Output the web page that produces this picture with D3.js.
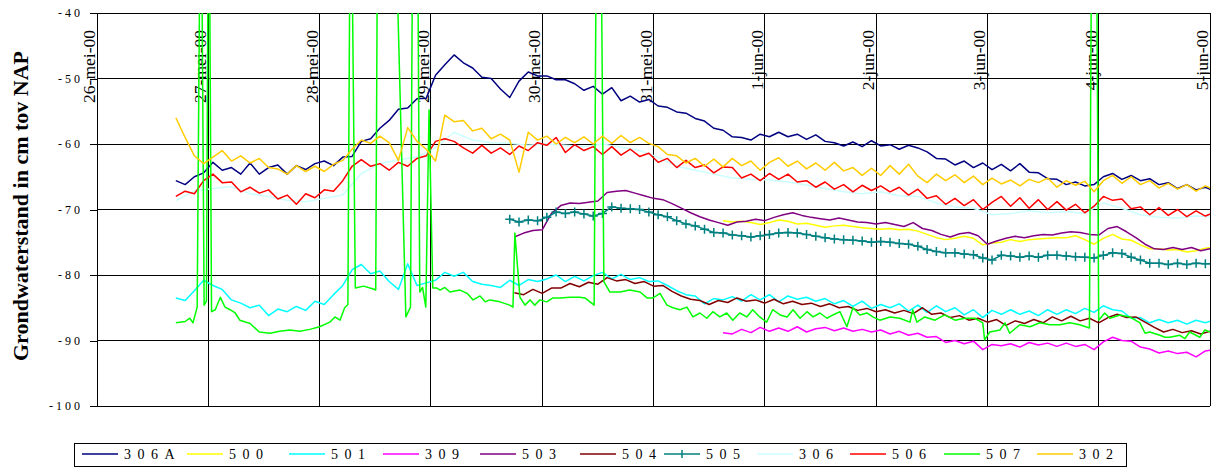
<!DOCTYPE html>
<html>
<head>
<meta charset="utf-8">
<script src="https://cdn.jsdelivr.net/npm/d3@7"></script>
<style>
  body { margin: 0; background: #fff; }
  svg { display: block; font-family: 'Liberation Serif', 'Times New Roman', serif; }
</style>
</head>
<body>
<svg id="chart" width="1211" height="468"></svg>
<script>
// time is counted in hours from 26-mei-00 00:00
const dayLabels = ['26-mei-00', '27-mei-00', '28-mei-00', '29-mei-00', '30-mei-00', '31-mei-00',
                   '1-jun-00', '2-jun-00', '3-jun-00', '4-jun-00', '5-jun-00'];
const yTicks = [-40, -50, -60, -70, -80, -90, -100];

// series sampled every 2 h from hour 17
const s306A = [-65.6, -66.2, -65.0, -64.4, -62.8, -64.0, -63.6, -64.6, -62.9, -64.6,
  -63.6, -63.2, -64.6, -63.3, -63.9, -63.0, -62.6, -63.3, -62.0, -61.9,
  -59.6, -59.2, -57.6, -56.4, -54.7, -54.5, -53.1, -53.0, -49.5, -47.9,
  -46.4, -47.6, -48.4, -49.8, -50.0, -51.6, -52.9, -50.4, -49.0, -49.6,
  -49.6, -50.2, -50.2, -50.8, -51.8, -51.2, -52.4, -51.4, -53.4, -52.7,
  -53.6, -53.2, -54.2, -54.4, -55.1, -55.3, -56.1, -56.5, -57.6, -57.9,
  -58.9, -59.0, -59.4, -58.5, -58.9, -58.2, -58.9, -58.5, -59.3, -58.6,
  -59.6, -59.8, -60.3, -59.7, -60.4, -59.5, -60.3, -60.1, -60.8, -60.2,
  -60.6, -61.2, -62.2, -62.3, -63.2, -62.6, -63.6, -62.9, -63.9, -63.1,
  -64.1, -63.0, -64.3, -64.4, -65.3, -65.4, -66.2, -65.8, -66.4, -66.2,
  -65.0, -64.5, -65.4, -64.8, -65.6, -65.3, -66.2, -65.9, -66.8, -66.2,
  -67.0, -66.6, -67.2];
const s302 = [-56.0, -59.0, -61.8, -63.0, -62.0, -61.0, -62.6, -61.8, -62.9, -62.2,
  -63.6, -63.8, -64.6, -63.3, -64.2, -63.4, -64.2, -63.1, -62.5, -60.8,
  -59.4, -59.9, -58.8, -59.8, -62.5, -57.5, -59.6, -60.8, -62.6, -55.6,
  -56.6, -56.4, -58.0, -57.6, -59.2, -58.5, -59.4, -64.3, -58.2, -59.4,
  -58.8, -60.0, -59.0, -59.8, -58.9, -60.0, -58.8, -59.9, -58.7, -59.8,
  -59.0, -59.9, -60.4, -61.6, -61.8, -62.9, -62.2, -63.4, -62.3, -63.5,
  -62.2, -63.3, -62.6, -64.0, -62.8, -62.1, -63.4, -62.6, -63.8, -62.9,
  -64.0, -62.8, -64.1, -63.6, -64.8, -63.7, -64.8, -63.3, -64.6, -63.1,
  -64.9, -65.9, -64.6, -65.6, -64.7, -65.9, -64.9, -66.2, -65.2, -66.1,
  -65.5, -66.4, -65.4, -65.9, -65.2, -66.6, -65.6, -66.3, -65.7, -67.3,
  -65.6, -64.8, -66.0, -65.0, -66.2, -65.6, -66.7, -66.0, -66.9, -66.2,
  -67.2, -66.4, -67.0];
const s506 = [-68.0, -67.2, -67.6, -65.6, -64.6, -65.9, -65.8, -67.3, -66.6, -67.5,
  -67.0, -68.4, -67.8, -69.2, -67.6, -68.2, -67.0, -67.2, -65.6, -63.4,
  -62.4, -63.4, -63.0, -64.0, -62.8, -63.4, -62.2, -61.8, -59.6, -59.2,
  -59.6, -60.6, -61.4, -60.2, -61.4, -60.6, -61.6, -60.3, -61.0, -59.8,
  -60.2, -59.0, -61.3, -60.1, -61.0, -60.4, -61.6, -60.4, -61.7, -60.8,
  -61.9, -61.4, -62.8, -62.2, -63.6, -62.5, -63.6, -63.2, -64.4, -63.5,
  -63.6, -65.2, -64.6, -65.6, -64.5, -65.4, -64.6, -65.8, -65.6, -66.6,
  -65.8, -66.9, -66.2, -67.3, -66.3, -67.1, -66.4, -67.3, -66.6, -67.8,
  -66.9, -68.3, -67.9, -69.2, -68.3, -69.4, -68.5, -70.0, -68.9, -68.0,
  -69.5, -68.2, -69.8, -68.5, -70.0, -68.8, -70.1, -69.2, -70.5, -69.5,
  -68.0, -68.6, -68.4, -69.9, -69.6, -70.8, -69.7, -70.9, -70.0, -71.1,
  -70.2, -71.0, -70.4];
const s501 = [-83.5, -83.9, -82.4, -80.8, -81.6, -82.2, -83.8, -84.3, -85.0, -84.6,
  -86.2, -85.2, -85.6, -84.8, -85.4, -84.0, -84.5, -83.0, -81.6, -79.2,
  -78.4, -79.8, -79.4, -81.0, -82.2, -78.3, -81.6, -81.2, -80.8, -79.6,
  -80.2, -79.6, -81.0, -81.4, -81.6, -81.9, -80.8, -81.6, -80.7, -81.0,
  -80.6, -80.0, -81.0, -80.2, -80.9, -80.1, -79.6, -80.6, -79.9, -80.7,
  -80.4, -81.0, -80.9, -81.6, -82.4, -83.0, -83.2, -84.4, -83.6, -83.8,
  -83.3, -84.0, -83.0, -83.8, -83.0, -84.1, -83.2, -83.7, -83.4, -84.0,
  -83.6, -84.4, -83.9, -84.8, -84.0, -85.1, -84.5, -85.0, -84.4, -85.5,
  -84.6, -85.7, -84.7, -85.6, -85.0, -86.1, -85.3, -86.5, -85.4, -86.0,
  -85.3, -86.0, -85.5, -86.2, -85.3, -86.0, -85.3, -85.9, -85.1, -85.7,
  -84.7, -85.3, -85.5, -86.6, -86.5, -87.3, -86.8, -87.3, -86.9, -87.5,
  -86.9, -87.3, -86.8];
// sampled every 4 h from hour 17
const s306 = [-68.6, -67.2, -66.8, -66.5, -67.6, -68.0, -68.6, -68.8, -68.3, -67.8,
  -64.5, -63.0, -62.4, -62.0, -60.6, -58.2, -59.4, -59.8, -59.9, -60.2,
  -60.0, -60.2, -60.4, -60.0, -60.5, -61.0, -62.0, -63.4, -64.0, -64.6,
  -65.2, -65.4, -65.5, -65.8, -66.3, -66.8, -67.3, -67.6, -67.3, -67.9,
  -68.0, -69.0, -69.6, -69.8, -70.8, -70.6, -70.2, -70.5, -70.3, -70.6,
  -69.0, -69.8, -70.8, -71.2, -71.3, -71.0, -71.2];
// sampled every 2 h from hour 89
const s505 = [-71.5, -71.9, -71.6, -71.7, -71.2, -70.4, -70.6, -70.4, -70.7, -71.0,
  -70.6, -69.6, -69.8, -69.9, -70.0, -70.4, -70.8, -71.1, -71.7, -72.2,
  -72.5, -73.0, -73.5, -73.6, -73.9, -74.0, -74.2, -74.0, -73.8, -73.6,
  -73.5, -73.6, -73.8, -74.1, -74.3, -74.5, -74.6, -74.7, -74.8, -75.0,
  -74.9, -75.0, -75.2, -75.3, -75.6, -76.1, -76.4, -76.6, -76.6, -76.8,
  -76.9, -77.4, -77.7, -77.0, -77.1, -77.3, -77.1, -77.3, -77.0, -77.0,
  -77.1, -77.2, -77.3, -77.4, -77.0, -76.6, -76.7, -77.3, -77.7, -78.2,
  -78.2, -78.4, -78.2, -78.4, -78.2, -78.3, -78.3];
// sampled every 2 h from hour 90
const s503 = [-74.2, -73.6, -73.2, -73.1, -70.6, -69.4, -69.0, -69.1, -68.9, -68.7,
  -67.4, -67.2, -67.1, -67.5, -67.9, -68.3, -68.5, -69.1, -69.8, -70.5,
  -71.1, -71.6, -72.0, -72.4, -71.9, -71.8, -71.5, -71.7, -71.2, -70.8,
  -70.5, -70.9, -71.2, -71.4, -71.6, -71.3, -71.6, -71.9, -72.0, -72.2,
  -72.0, -72.3, -72.6, -72.0, -72.9, -73.2, -73.8, -74.2, -73.7, -73.5,
  -74.0, -75.3, -74.8, -74.4, -74.1, -74.3, -74.0, -73.8, -73.9, -73.6,
  -73.4, -73.5, -73.8, -73.9, -72.9, -72.6, -73.4, -74.3, -75.3, -76.0,
  -76.1, -75.8, -76.1, -75.8, -76.3, -76.0];
const s504 = [-82.7, -83.0, -82.2, -82.8, -82.0, -82.0, -81.3, -81.8, -81.1, -81.4,
  -80.4, -80.9, -80.7, -81.3, -81.0, -81.7, -81.6, -82.5, -83.2, -83.7,
  -83.9, -84.5, -83.9, -84.2, -83.5, -84.0, -83.8, -84.3, -83.7, -84.4,
  -84.0, -84.5, -84.3, -84.8, -84.4, -85.0, -84.8, -85.4, -85.1, -85.6,
  -85.3, -85.8, -85.4, -85.9, -85.0, -86.0, -85.8, -86.5, -86.2, -86.9,
  -86.6, -87.2, -86.8, -87.7, -87.0, -87.4, -86.8, -87.3, -86.4, -87.0,
  -86.3, -87.0, -86.6, -87.3, -86.5, -86.0, -86.5, -86.4, -87.2, -88.0,
  -88.7, -88.3, -88.8, -88.5, -89.0, -88.6];
// sampled every 2 h from hour 135
const s500 = [-71.7, -71.9, -71.8, -72.0, -72.3, -72.0, -71.6, -71.8, -72.2, -72.1,
  -72.4, -72.7, -72.5, -72.4, -72.6, -72.8, -72.9, -73.0, -72.9, -73.1,
  -73.0, -73.3, -73.8, -74.3, -74.6, -74.4, -74.1, -74.4, -75.4, -75.1,
  -75.0, -74.6, -74.9, -74.6, -74.5, -74.4, -74.3, -74.3, -74.0, -74.6,
  -75.3, -74.4, -73.8, -74.5, -74.7, -75.4, -76.0, -76.0, -76.2, -76.1,
  -76.5, -76.3, -75.9, -75.8];
const s309 = [-88.8, -89.0, -88.3, -88.8, -88.0, -88.6, -88.1, -88.6, -87.9, -88.7,
  -88.2, -88.0, -88.5, -88.1, -88.6, -88.3, -88.7, -88.4, -89.0, -88.6,
  -89.2, -88.9, -89.5, -89.4, -90.3, -90.0, -90.5, -90.1, -91.4, -90.6,
  -90.8, -90.5, -91.0, -90.3, -90.7, -90.4, -90.9, -90.4, -90.9, -90.6,
  -91.4, -90.2, -89.5, -90.0, -90.1, -91.0, -91.3, -91.9, -91.6, -92.0,
  -91.8, -92.5, -91.6, -91.4];
// 507 has irregular readings (spikes run off the top of the chart)
const hours507 = [17, 19, 20, 20.7, 21.6, 22.4, 23.1, 23.6, 24.1, 24.7,
  25.5, 26.6, 27.6, 28.7, 29.8, 30.8, 33, 35, 37.3, 39.4,
  41.6, 43.7, 45.9, 48, 50.2, 51.3, 52.4, 53.4, 54.1, 54.7,
  55.7, 57.5, 59.4, 60.1, 60.6, 63.8, 66.6, 67.6, 68.2, 69,
  69.6, 70.2, 70.9, 71.6, 72.4, 73.3, 74, 75, 76.1, 78.3,
  79.8, 81.1, 82.6, 83.7, 84.7, 86.9, 89, 89.7, 90.1, 91.2,
  92.3, 93.4, 94.4, 95.5, 97, 98.3, 99.8, 102, 104.1, 105.2,
  106.3, 107.2, 107.8, 108.5, 109.3, 110.6, 112.8, 114.9, 117.1, 118.6,
  119.9, 121.4, 122.9, 124.2, 125.7, 127.2, 128.5, 130, 131.5, 132.8,
  134.3, 135.8, 137.1, 138.6, 140.1, 141.4, 142.9, 144.4, 145.7, 147.3,
  148.8, 150.1, 151.6, 153.1, 154.4, 155.9, 157.4, 158.7, 160.2, 161.7,
  163, 164.5, 166, 167.3, 168.8, 171, 173.1, 175.3, 175.9, 176.8,
  178.5, 180.7, 182.8, 185, 187.1, 189.3, 191, 191.4, 192.5, 194.7,
  195.8, 196.8, 199, 201.2, 203.3, 205.5, 207.6, 209.8, 211.9, 214,
  214.6, 215.4, 216, 217.3, 218.4, 220.6, 222.7, 224.9, 226, 227,
  229.2, 230.3, 231.3, 233.5, 234.6, 235.6, 237.8, 238.9, 240];
const s507 = [-87.3, -87.1, -86.6, -87.3, -84.9, -10, -84.6, -84.0, -10, -85.6,
  -85.3, -83.4, -84.9, -85.3, -85.8, -86.9, -87.4, -88.7, -88.9, -88.6,
  -88.4, -88.6, -88.3, -87.9, -87.2, -86.4, -86.9, -85.0, -84.5, -10,
  -82.0, -81.7, -82.1, -82.3, -10, -10, -86.4, -84.9, -10, -10,
  -82.6, -81.9, -84.9, -54.8, -82.0, -82.0, -82.3, -81.9, -82.6, -82.3,
  -82.8, -83.8, -83.2, -84.1, -83.8, -84.1, -84.6, -84.9, -73.6, -83.4,
  -84.6, -83.8, -84.6, -83.8, -84.1, -83.5, -83.5, -83.4, -83.4, -83.5,
  -84.1, -84.6, -10, -10, -81.0, -82.6, -82.6, -82.3, -82.6, -83.5,
  -83.5, -82.8, -84.6, -85.0, -85.3, -84.9, -86.4, -85.8, -86.6, -85.6,
  -86.4, -85.8, -86.9, -85.8, -86.4, -85.3, -86.4, -87.2, -85.3, -86.1,
  -86.4, -85.3, -86.6, -85.6, -86.4, -85.8, -86.6, -86.1, -85.6, -87.9,
  -85.0, -86.1, -85.8, -86.4, -86.9, -86.4, -86.6, -87.2, -85.3, -87.2,
  -86.4, -86.9, -86.1, -86.9, -86.6, -86.6, -87.3, -89.9, -88.7, -88.4,
  -87.3, -88.9, -87.6, -87.9, -87.3, -87.6, -87.6, -87.3, -87.6, -88.1,
  -10, -10, -86.9, -85.8, -86.6, -86.1, -86.4, -87.3, -88.9, -88.7,
  -89.2, -89.5, -89.5, -89.2, -89.7, -88.7, -89.5, -88.4, -88.7];

const names = ['306A', '500', '501', '309', '503', '504', '505', '306', '506', '507', '302'];
const colors = ['#000080', '#FFFF00', '#00FFFF', '#FF00FF', '#800080', '#800000',
                '#008080', '#CCFFFF', '#FF0000', '#00FF00', '#FFCC00'];

const regular = (start, step, vals) => vals.map((v, i) => ({ h: start + step * i, v }));
const seriesData = [
    regular(17, 2, s306A),
    regular(135, 2, s500),
    regular(17, 2, s501),
    regular(135, 2, s309),
    regular(90, 2, s503),
    regular(90, 2, s504),
    regular(89, 2, s505),
    regular(17, 4, s306),
    regular(17, 2, s506),
    hours507.map((h, i) => ({ h, v: s507[i] })),
    regular(17, 2, s302),
];

const base = new Date(2000, 4, 26);
const at = h => new Date(base.getTime() + h * 3600e3);

const plotL = 97, plotR = 1210, plotT = 13, plotB = 406;
const x = d3.scaleTime().domain([at(0), at(240)]).range([plotL, plotR]);
const y = d3.scaleLinear().domain([-100, -40]).range([plotB, plotT]);

const svg = d3.select('#chart');

svg.append('defs').append('clipPath').attr('id', 'plot')
    .append('rect').attr('x', plotL).attr('y', plotT)
    .attr('width', plotR - plotL).attr('height', plotB - plotT);

// grid
const days = d3.timeDay.range(at(0), at(241));
svg.append('g').selectAll('line')
    .data(yTicks).enter().append('line')
    .attr('x1', plotL).attr('x2', plotR)
    .attr('y1', d => y(d)).attr('y2', d => y(d))
    .attr('stroke', '#000').attr('shape-rendering', 'crispEdges');
svg.append('g').selectAll('line')
    .data(days.slice(1)).enter().append('line')
    .attr('x1', d => x(d)).attr('x2', d => x(d))
    .attr('y1', plotT).attr('y2', plotB)
    .attr('stroke', '#000').attr('shape-rendering', 'crispEdges');

// y axis
const yAxis = svg.append('g')
    .attr('transform', `translate(${plotL},0)`)
    .call(d3.axisLeft(y).tickValues(yTicks).tickSize(7).tickPadding(7)
        .tickFormat(d => String(d)));
yAxis.select('.domain').attr('stroke', '#000').attr('shape-rendering', 'crispEdges');
yAxis.selectAll('.tick line').attr('shape-rendering', 'crispEdges');
yAxis.selectAll('text')
    .style('font-family', "'Liberation Serif', 'Times New Roman', serif")
    .style('font-size', '12px')
    .style('letter-spacing', '3px')
    .attr('fill', '#000');

svg.append('text')
    .attr('transform', 'translate(28, 206) rotate(-90)')
    .attr('text-anchor', 'middle')
    .style('font-size', '22px')
    .style('font-weight', 'bold')
    .text('Grondwaterstand in cm tov NAP');

// day labels, written upward from the top of the plot
svg.append('g').selectAll('text')
    .data(days).enter().append('text')
    .attr('transform', d => `translate(${x(d) - 2}, 30) rotate(-90)`)
    .attr('text-anchor', 'end')
    .style('font-size', '17.5px')
    .text((d, i) => dayLabels[i]);

// series
const line = d3.line().x(d => x(at(d.h))).y(d => y(d.v));
const plot = svg.append('g').attr('clip-path', 'url(#plot)');
seriesData.forEach((data, i) => {
    plot.append('path')
        .datum(data)
        .attr('fill', 'none')
        .attr('stroke', colors[i])
        .attr('stroke-width', 1.5)
        .attr('stroke-linejoin', 'round')
        .attr('d', line);
    if (names[i] === '505') {
        plot.append('g').selectAll('path')
            .data(data).enter().append('path')
            .attr('d', d => `M${x(at(d.h)) - 4.5},${y(d.v)}h9M${x(at(d.h))},${y(d.v) - 4.5}v9`)
            .attr('stroke', colors[i])
            .attr('stroke-width', 1.5);
    }
});

// legend
const legendX = [82, 187, 289, 383, 480, 580, 664, 757, 850, 944, 1037];
const legend = svg.append('g');
legend.append('rect')
    .attr('x', 74.5).attr('y', 443.5).attr('width', 1052).attr('height', 23)
    .attr('fill', '#fff').attr('stroke', '#000');
names.forEach((name, i) => {
    const lx = legendX[i];
    legend.append('line')
        .attr('x1', lx).attr('x2', lx + 36)
        .attr('y1', 454).attr('y2', 454)
        .attr('stroke', colors[i]).attr('stroke-width', 1.5);
    if (name === '505') {
        legend.append('path')
            .attr('d', `M${lx + 18},450v8`)
            .attr('stroke', colors[i]).attr('stroke-width', 1.5);
    }
    legend.append('text')
        .attr('x', lx + 42).attr('y', 459)
        .style('font-size', '14px')
        .style('letter-spacing', '6.5px')
        .text(name);
});
</script>
</body>
</html>
